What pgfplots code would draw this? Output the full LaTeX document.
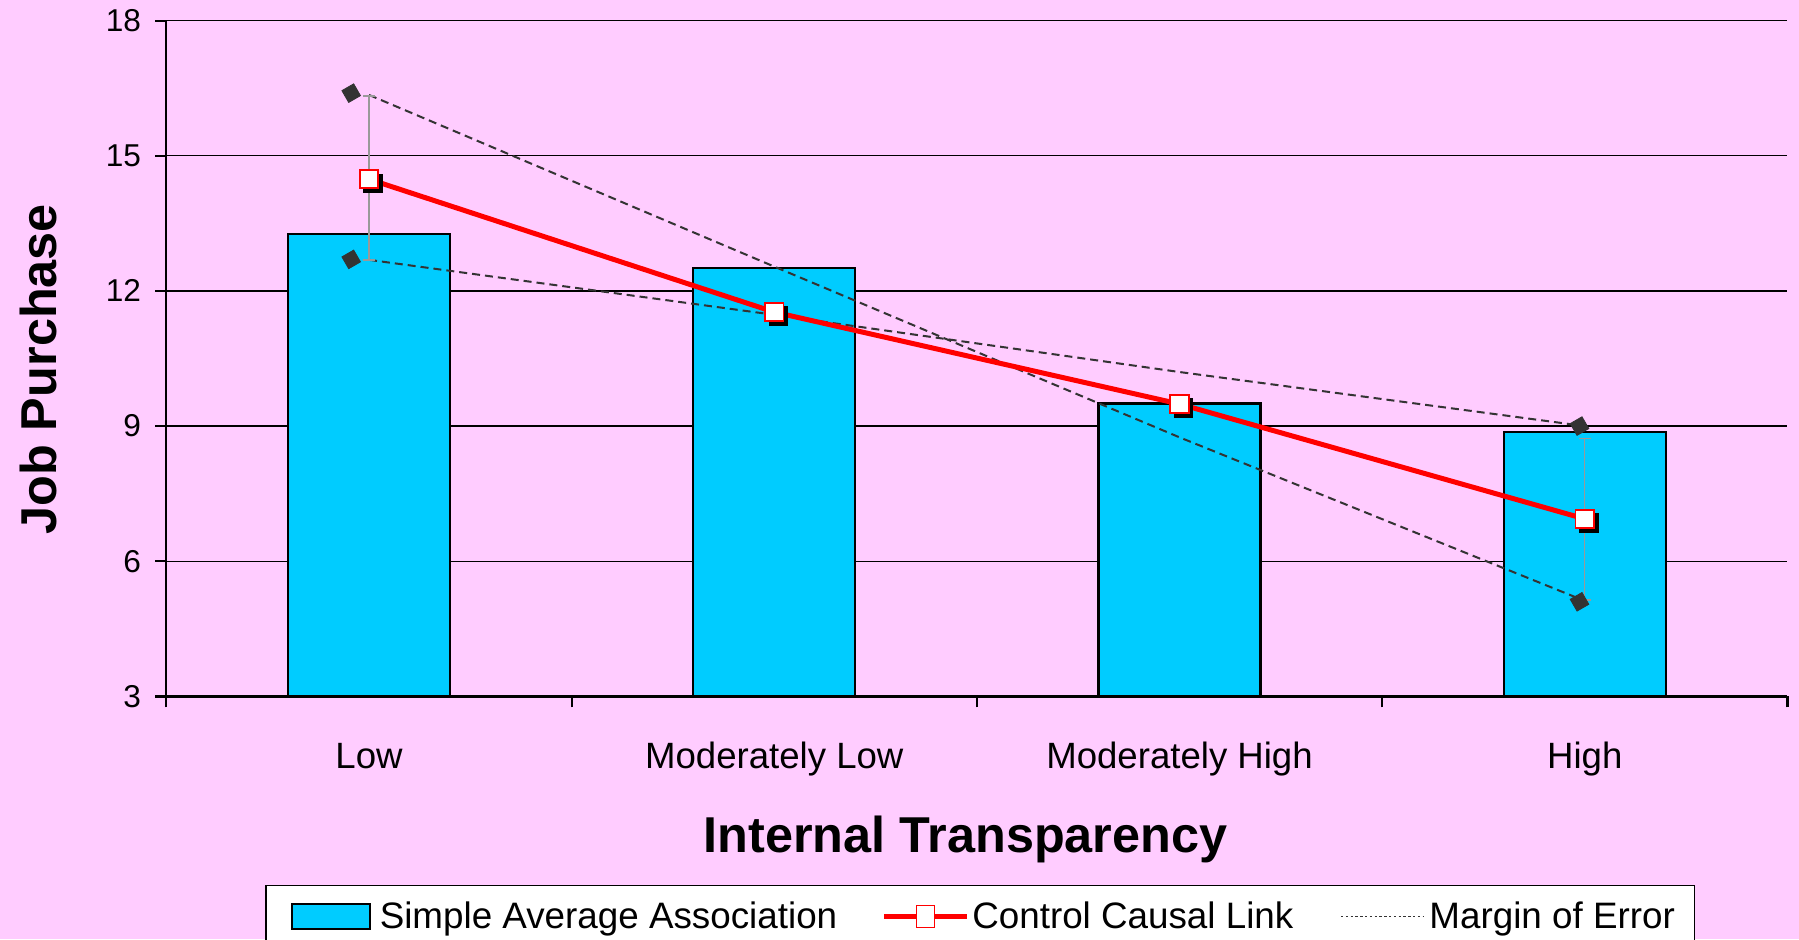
\documentclass[border=0pt]{standalone}
\usepackage{fontspec}
\setmainfont{Liberation Sans}
\usepackage{pgfplots}
\pgfplotsset{compat=1.18}
\definecolor{bgpink}{HTML}{FFCCFF}
\definecolor{barcyan}{HTML}{00CCFF}
\definecolor{darkdash}{HTML}{333333}
\definecolor{errgray}{HTML}{999999}
\begin{document}
\begin{tikzpicture}
\path[use as bounding box, fill=bgpink] (0,0) rectangle (899.5pt,469.5pt);
\begin{axis}[
  at={(83.2pt,121.3pt)}, anchor=south west,
  scale only axis, width=810.5pt, height=337.9pt,
  xmin=-0.5, xmax=3.5, ymin=3, ymax=18,
  ytick={3,6,9,12,15,18},
  xtick={-0.5,0.5,1.5,2.5,3.5}, xticklabels={,,,,},
  extra x ticks={0,1,2,3},
  extra x tick labels={Low,Moderately Low,Moderately High,High},
  extra x tick style={major tick length=0pt, xticklabel style={anchor=base, yshift=-36.1pt, font=\fontsize{18.3}{22}\selectfont}},
  axis x line*=bottom, axis y line*=left,
  axis line style={line width=1.1pt, black},
  tick align=outside,
  major tick length=5.5pt,
  tick style={black, line width=1.1pt},
  ymajorgrids, grid style={black, line width=0.7pt},
  /pgf/number format/assume math mode=true,
  yticklabel style={font=\fontsize{15.8}{19}\selectfont, xshift=-3.7pt},
  ylabel={Job Purchase},
  ylabel style={at={(axis description cs:-0.0792,0.484)}, anchor=center, font=\fontsize{25.2}{30}\selectfont\bfseries},
  xlabel={Internal Transparency},
  xlabel style={at={(axis description cs:0.493,-0.2122)}, anchor=center, font=\fontsize{25.2}{30}\selectfont\bfseries},
  legend style={at={(axis description cs:0.0608,-0.2785)}, anchor=north west, draw=black, line width=0.8pt, fill=white, inner xsep=0pt, inner ysep=8.1pt, nodes={inner sep=0pt, anchor=west, font=\fontsize{18.4}{22}\selectfont}, /tikz/column sep=0pt},
  legend columns=3,
  legend cell align=left,
]
\addlegendimage{legend image code/.code={
  \path[draw=none, fill=none] (0pt,-6.3pt) rectangle (57pt,6.3pt);
  \draw[fill=barcyan, draw=black, line width=1pt] (13pt,-6.3pt) rectangle (52pt,6.3pt);}}
\addlegendentry{Simple Average Association}
\addlegendimage{legend image code/.code={
  \path[draw=none, fill=none] (0pt,0pt) -- (67.5pt,0pt);
  \draw[red, line width=2.4pt] (23.5pt,0pt) -- (64.75pt,0pt);
  \draw[red, fill=white, line width=0.8pt] (39.6pt,-5.5pt) rectangle (48.6pt,5.5pt);}}
\addlegendentry{Control Causal Link}
\addlegendimage{legend image code/.code={
  \path[draw=none, fill=none] (0pt,0pt) -- (68pt,0pt);
  \draw[darkdash, line width=0.6pt, dash pattern=on 1.2pt off 1.2pt] (23.8pt,0pt) -- (65pt,0pt);}}
\addlegendentry{Margin of Error\kern9.8pt\relax}

\addplot[ybar, bar width=0.4, fill=barcyan, draw=black, line width=1.1pt, forget plot]
  coordinates {(0,13.27) (1,12.5) (2,9.5) (3,8.87)};

\addplot[darkdash, line width=1pt, dash pattern=on 4pt off 2.5pt, mark=none, forget plot]
  coordinates {(0,16.35) (1,12.54) (2,8.75) (3,5.12)};
\addplot[darkdash, line width=1pt, dash pattern=on 4pt off 2.5pt, mark=none, forget plot]
  coordinates {(0,12.69) (1,11.47) (2,10.2) (3,9.0)};

\addplot[errgray, line width=0.7pt, mark=-, mark size=3pt, forget plot]
  coordinates {(0,12.69) (0,16.33)};
\addplot[errgray, line width=0.7pt, mark=-, mark size=3pt, forget plot]
  coordinates {(3,5.14) (3,8.73)};

\addplot[only marks, mark=square*, mark size=3.4pt, mark options={fill=darkdash, draw=darkdash, rotate=30}, forget plot]
  coordinates {(-0.044,16.39) (-0.044,12.70) (2.987,9.0) (2.987,5.1)};

\addplot[red, line width=2.5pt, mark=none, forget plot]
  coordinates {(0,14.48) (1,11.53) (2,9.49) (3,6.94)};
\addplot[only marks, mark=square*, mark size=4.6pt, mark options={fill=black, draw=black, xshift=2pt, yshift=-2pt}, forget plot]
  coordinates {(0,14.48) (1,11.53) (2,9.49) (3,6.94)};
\addplot[only marks, mark=square*, mark size=4.6pt, mark options={fill=white, draw=red, line width=0.9pt}, forget plot]
  coordinates {(0,14.48) (1,11.53) (2,9.49) (3,6.94)};
\end{axis}
\end{tikzpicture}
\end{document}
